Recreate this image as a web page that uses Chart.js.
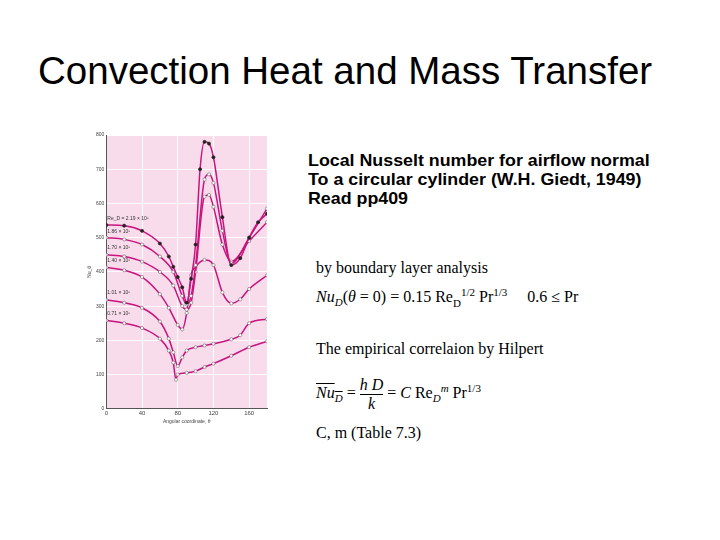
<!DOCTYPE html>
<html><head><meta charset="utf-8">
<script src="https://cdn.jsdelivr.net/npm/chart.js@4"></script>
<style>
body{margin:0;width:720px;height:540px;background:#fff;position:relative;font-family:"Liberation Sans",Arial,sans-serif;overflow:hidden}
#title{position:absolute;left:38px;top:49px;font-size:38.5px;color:#000;white-space:nowrap}
#box{position:absolute;left:86px;top:130px;width:186px;height:296px}
#desc{position:absolute;left:308px;top:151px;font-size:16.5px;transform:scaleX(1.08);transform-origin:0 0;font-weight:bold;line-height:19px;white-space:nowrap}
.f{position:absolute;left:316px;font-family:"Liberation Serif","Times New Roman",serif;font-size:16px;white-space:nowrap}
i{font-style:italic}
</style></head><body>
<div id="title">Convection Heat and Mass Transfer</div>
<div id="box"><canvas id="c"></canvas></div>
<div id="desc">Local Nusselt number for airflow normal<br>To a circular cylinder (W.H. Giedt, 1949)<br>Read pp409</div>
<div class="f" style="top:259px">by boundary layer analysis</div>
<div class="f" style="top:286px"><i>Nu<sub style="font-size:11px">D</sub></i>(<i>θ</i> = 0) = 0.15 Re<sub style="font-size:11px">D</sub><sup style="font-size:11px">1/2</sup> Pr<sup style="font-size:11px">1/3</sup> &nbsp;&nbsp;&nbsp; 0.6 ≤ Pr</div>
<div class="f" style="top:340px">The empirical correlaion by Hilpert</div>
<div class="f" style="top:376px"><span style="text-decoration:overline"><i>Nu<sub style="font-size:11px">D</sub></i></span> = <span style="display:inline-block;text-align:center;vertical-align:middle;line-height:18px"><i>h D</i><br><span style="border-top:1px solid #000;display:block"><i>k</i></span></span> = <i>C</i> Re<sub style="font-size:11px"><i>D</i></sub><sup style="font-size:11px"><i>m</i></sup> Pr<sup style="font-size:11px">1/3</sup></div>
<div class="f" style="top:424px">C, m (Table 7.3)</div>
<script>
const labels=["Re_D = 2.19 × 10⁵","1.86 × 10⁵","1.70 × 10⁵","1.40 × 10⁵","1.01 × 10⁵","0.71 × 10⁵"];
const s219=[[0,537],[20,535],[40,520],[60,483],[70,445],[75,415],[80,385],[85,355],[90,310],[95,380],[100,480],[105,700],[110,780],[115,775],[120,735],[130,560],[140,420],[150,440],[160,500],[170,545],[180,570]];
const s186=[[0,500],[20,495],[40,480],[60,445],[75,400],[85,330],[90,305],[95,330],[100,420],[110,670],[115,685],[120,660],[130,520],[140,425],[160,500],[180,585]];
const s170=[[0,450],[20,445],[40,430],[60,400],[75,360],[85,300],[90,290],[95,310],[100,400],[110,620],[115,625],[120,590],[130,480],[140,430],[160,490],[180,545]];
const s140=[[0,413],[20,405],[40,385],[60,335],[70,295],[80,245],[85,232],[90,280],[95,390],[100,415],[110,435],[120,420],[130,340],[140,308],[150,320],[160,350],[180,390]];
const s101=[[0,318],[20,310],[40,295],[60,255],[70,205],[75,165],[80,125],[85,150],[90,170],[100,180],[110,185],[120,190],[140,203],[150,215],[160,250],[180,262]];
const s071=[[0,258],[20,250],[40,236],[60,205],[70,170],[75,135],[78,85],[80,100],[90,105],[100,110],[110,122],[120,132],[140,155],[160,180],[180,197]];
const labelAnchors=[[0,552],[0,514],[0,466],[0,430],[0,334],[0,274]];
const all=[s219,s186,s170,s140,s101,s071];
const M='#c8147e';
const ds=all.map((s,i)=>({data:s.map(p=>({x:p[0],y:p[1]})),borderColor:M,borderWidth:1.5,tension:0.4,cubicInterpolationMode:'monotone',
 pointRadius:1.6,pointBackgroundColor:i==0?'#222':'#fff',pointBorderColor:i==0?'#222':'#666',pointBorderWidth:0.6}));
const bg={id:'bg',beforeDraw(ch){const a=ch.chartArea,x=ch.ctx;x.save();x.fillStyle='#f9dcec';x.fillRect(a.left,a.top,a.right-a.left,a.bottom-a.top);x.restore();},
 afterDatasetsDraw(ch){const x=ch.ctx,xs=ch.scales.x,ys=ch.scales.y;x.save();x.font='5px "Liberation Sans"';x.fillStyle='#333';
 labelAnchors.forEach((p,i)=>{x.fillText(labels[i],xs.getPixelForValue(p[0])+1,ys.getPixelForValue(p[1]));});x.restore();}};
new Chart(document.getElementById('c'),{type:'line',data:{datasets:ds},plugins:[bg],
options:{responsive:true,maintainAspectRatio:false,animation:false,plugins:{legend:{display:false},tooltip:{enabled:false}},
layout:{padding:{top:2,right:5}},
scales:{x:{type:'linear',min:0,max:180,afterBuildTicks(s){s.ticks=s.ticks.filter(t=>t.value%40===0);},ticks:{stepSize:40,font:{size:6},color:'#444',padding:1},grid:{color:'#fff',drawTicks:false},border:{color:'#555'},
 title:{display:true,text:'Angular coordinate, θ',font:{size:5},color:'#444',padding:1}},
 y:{min:0,max:800,ticks:{stepSize:100,font:{size:5},color:'#444',padding:2},grid:{color:'#fff',drawTicks:false},border:{color:'#555'},
 title:{display:true,text:'Nu_θ',font:{size:5},color:'#444',padding:1}}}}});
</script></body></html>
